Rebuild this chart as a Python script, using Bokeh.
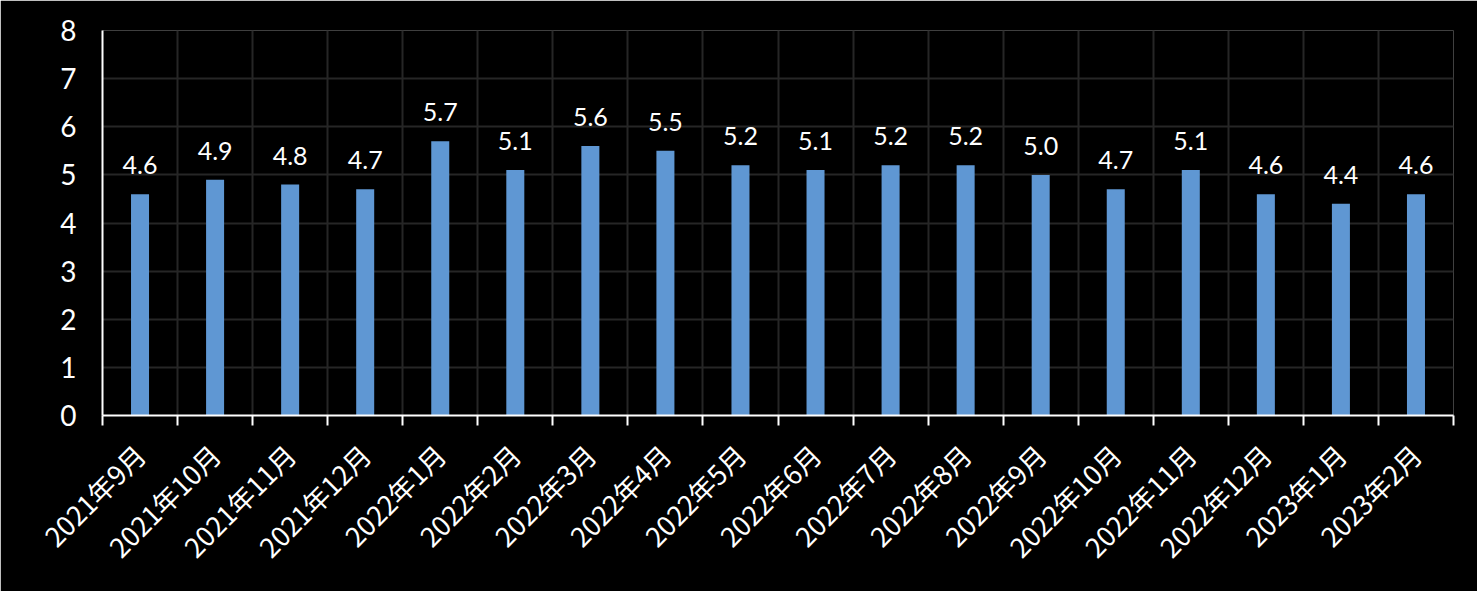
import math
from bokeh.plotting import figure
from bokeh.models import Range1d, FixedTicker, CustomJSTickFormatter, ColumnDataSource, LabelSet
from bokeh.core.properties import value
from bokeh.embed import file_html
from bokeh.resources import INLINE

months = ["2021年9月", "2021年10月", "2021年11月", "2021年12月", "2022年1月", "2022年2月",
          "2022年3月", "2022年4月", "2022年5月", "2022年6月", "2022年7月", "2022年8月",
          "2022年9月", "2022年10月", "2022年11月", "2022年12月", "2023年1月", "2023年2月"]
values = [4.6, 4.9, 4.8, 4.7, 5.7, 5.1, 5.6, 5.5, 5.2, 5.1, 5.2, 5.2, 5.0, 4.7, 5.1, 4.6, 4.4, 4.6]
y_ticks = [0, 1, 2, 3, 4, 5, 6, 7, 8]

n = len(months)
xs = [i + 0.5 for i in range(n)]
src = ColumnDataSource(dict(x=xs, top=values, lbl=["%.1f" % v for v in values]))

p = figure(width=1477, height=591, output_backend="svg", toolbar_location=None,
           x_range=Range1d(0, n), y_range=Range1d(0, 8),
           min_border_left=102, min_border_right=24, min_border_top=30, min_border_bottom=176)
p.background_fill_color = "black"
p.border_fill_color = "black"
p.outline_line_color = None

p.vbar(x="x", top="top", width=0.24, bottom=0, source=src, fill_color="#5f97d3", line_color=None)

labels = LabelSet(x="x", y="top", text="lbl", source=src, text_align="center",
                  text_baseline="bottom", y_offset=20, text_color="white",
                  text_font=value("Lato"), text_font_size="25px")
p.add_layout(labels)

# x axis: labels at centers, ticks & grid at boundaries
p.xaxis.ticker = FixedTicker(ticks=xs, minor_ticks=list(range(n + 1)))
p.xaxis.formatter = CustomJSTickFormatter(args=dict(labels=months),
                                          code="return labels[Math.floor(tick)];")
p.xaxis.major_label_orientation = math.pi / 4
p.xaxis.major_tick_line_color = None
p.xaxis.minor_tick_line_color = "white"
p.xaxis.minor_tick_line_width = 2
p.xaxis.minor_tick_in = 0
p.xaxis.minor_tick_out = 10
p.xaxis.axis_line_color = "white"
p.xaxis.axis_line_width = 2
p.xaxis.major_label_text_color = "white"
p.xaxis.major_label_text_font = "Noto Sans CJK SC"
p.xaxis.major_label_text_font_size = "27px"
p.xaxis.major_label_standoff = 24

p.xgrid.grid_line_color = None
p.xgrid.minor_grid_line_color = "#262626"
p.xgrid.minor_grid_line_width = 2

p.yaxis.ticker = FixedTicker(ticks=y_ticks)
p.yaxis.major_tick_line_color = None
p.yaxis.minor_tick_line_color = None
p.yaxis.axis_line_color = "white"
p.yaxis.axis_line_width = 2
p.yaxis.major_label_text_color = "white"
p.yaxis.major_label_text_font = "Lato"
p.yaxis.major_label_text_font_size = "28px"
p.yaxis.major_label_standoff = 20

p.ygrid.grid_line_color = "#262626"
p.ygrid.grid_line_width = 2

open("out.html", "w").write(file_html(p, INLINE))
